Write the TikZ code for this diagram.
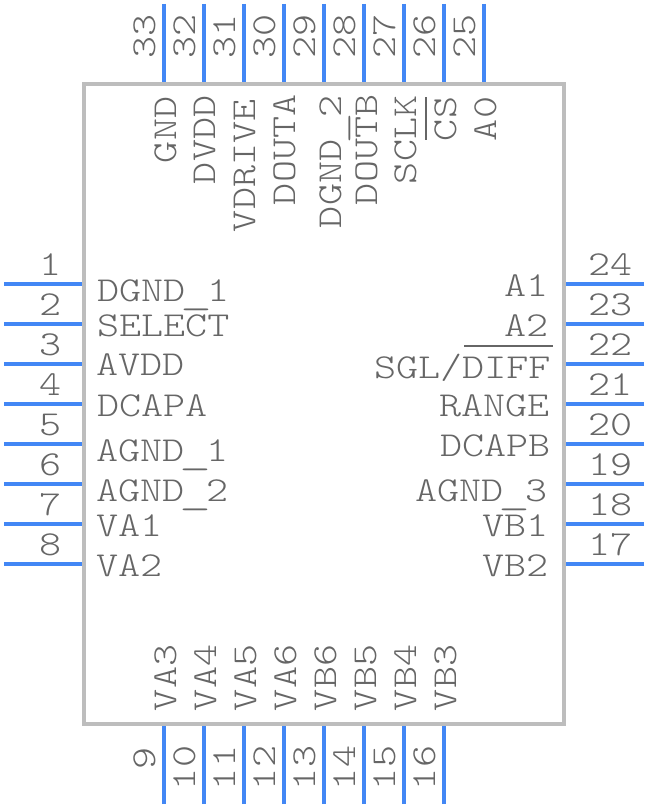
\documentclass[tikz,border=0pt]{standalone}
\usepackage{fontspec}
\usepackage{graphicx}
\setmonofont[FakeStretch=1.2]{Latin Modern Mono Light}
\definecolor{pincol}{HTML}{4287F5}
\definecolor{boxcol}{HTML}{BDBDBD}
\definecolor{txtcol}{HTML}{666666}
\newcommand{\usc}{\makebox[22pt]{\raisebox{-3pt}{\scalebox{1.45}[1]{\_}}}}
\tikzset{
  pinline/.style={draw=pincol,line width=4pt},
  chipbox/.style={draw=boxcol,line width=4pt},
  barline/.style={draw=txtcol,line width=2pt},
  lab/.style={inner sep=0pt,outer sep=0pt,text=txtcol,font=\fontsize{35}{35}\selectfont\ttfamily},
  hlab/.style={lab,anchor=base west},
  vlab/.style={lab,anchor=base west,rotate=90},
}
\begin{document}
\begin{tikzpicture}[x=1pt,y=-1pt]
\useasboundingbox (0,0) rectangle (648,808);
\fill[white] (0,0) rectangle (648,808);
\draw[chipbox] (84,84) rectangle (564,724);
% left and right pins
\foreach \n/\y in {1/284,2/324,3/364,4/404,5/444,6/484,7/524,8/564}{
  \coordinate (p\n a) at (4,\y); \coordinate (p\n b) at (82,\y);
  \draw[pinline] (p\n a) -- (p\n b);
  \node[hlab] (n\n) at (39,\y-9) {\n};
}
\foreach \n/\y in {24/284,23/324,22/364,21/404,20/444,19/484,18/524,17/564}{
  \coordinate (p\n a) at (644,\y); \coordinate (p\n b) at (566,\y);
  \draw[pinline] (p\n a) -- (p\n b);
  \node[hlab] (n\n) at (588,\y-9) {\n};
}
% top pins
\foreach \n/\x in {33/164,32/204,31/244,30/284,29/324,28/364,27/404,26/444,25/484}{
  \coordinate (p\n a) at (\x,4); \coordinate (p\n b) at (\x,82);
  \draw[pinline] (p\n a) -- (p\n b);
  \node[vlab] (n\n) at (\x-8.5,59) {\n};
}
% bottom pins
\foreach \n/\x/\s in {9/164/769,10/204/790,11/244/790,12/284/790,13/324/790,14/364/790,15/404/790,16/444/790}{
  \coordinate (p\n a) at (\x,804); \coordinate (p\n b) at (\x,726);
  \draw[pinline] (p\n a) -- (p\n b);
  \node[vlab] (n\n) at (\x-9,\s) {\n};
}
% left labels
\node[hlab] (l1) at (97,301) {DGND\usc1};
\node[hlab] (l2) at (97,336) {SELECT};
\node[hlab] (l3) at (96,375) {AVDD};
\node[hlab] (l4) at (97,416) {DCAPA};
\node[hlab] (l5) at (96,461) {AGND\usc1};
\node[hlab] (l6) at (96,501) {AGND\usc2};
\node[hlab] (l7) at (96,536) {VA1};
\node[hlab] (l8) at (96,576) {VA2};
% right labels
\node[hlab] (r24) at (504,296) {A1};
\node[hlab] (r23) at (504,336) {A2};
\node[hlab] (r22) at (374,378) {SGL/DIFF};
\node[hlab] (r21) at (439,416) {RANGE};
\node[hlab] (r20) at (440,456) {DCAPB};
\node[hlab] (r19) at (415,501) {AGND\usc3};
\node[hlab] (r18) at (482,536) {VB1};
\node[hlab] (r17) at (482,576) {VB2};
% top labels
\node[vlab] (t33) at (176,163) {GND};
\node[vlab] (t32) at (215,184) {DVDD};
\node[vlab] (t31) at (255,232) {VDRIVE};
\node[vlab] (t30) at (295,205) {DOUTA};
\node[vlab] (t29) at (341,228) {DGND\usc2};
\node[vlab] (t28) at (377,205) {DOUTB};
\node[vlab] (t27) at (416,184) {SCLK};
\node[vlab] (t26) at (456,141) {CS};
\node[vlab] (t25) at (496,141) {A0};
% bottom labels
\node[vlab] (b9)  at (176,711) {VA3};
\node[vlab] (b10) at (216,711) {VA4};
\node[vlab] (b11) at (256,711) {VA5};
\node[vlab] (b12) at (296,711) {VA6};
\node[vlab] (b13) at (336,711) {VB6};
\node[vlab] (b14) at (376,711) {VB5};
\node[vlab] (b15) at (416,711) {VB4};
\node[vlab] (b16) at (456,711) {VB3};
% overbars
\draw[barline] (426,97) -- (426,140);
\draw[barline] (464,346) -- (553,346);
\end{tikzpicture}
\end{document}
